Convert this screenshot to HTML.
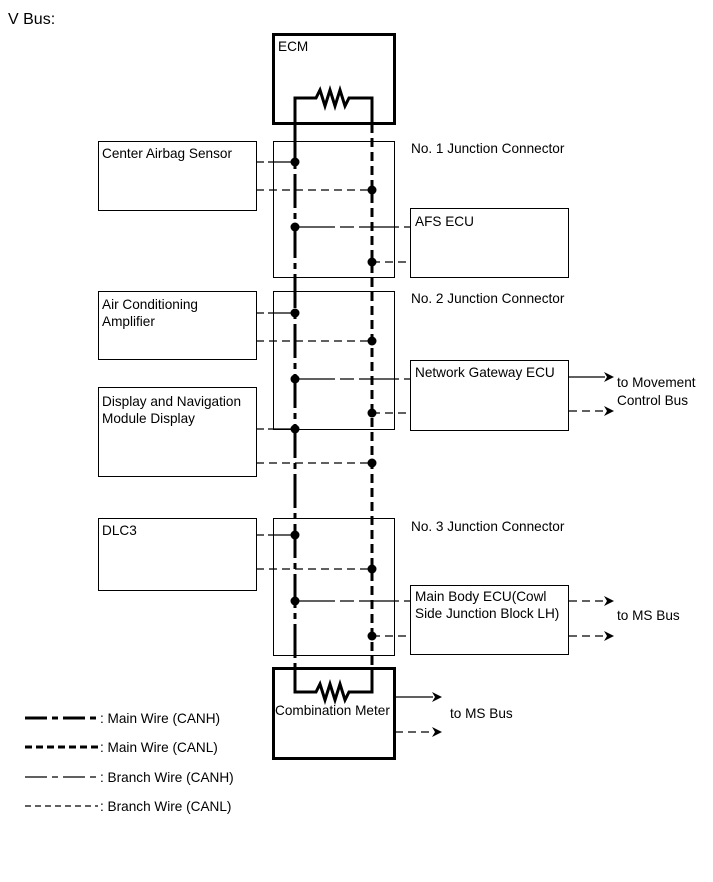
<!DOCTYPE html>
<html><head><style>body{margin:0;background:#fff}svg{display:block}text{font-family:"Liberation Sans",Arial,sans-serif;font-size:13.6px;fill:#000}</style></head>
<body>
<svg width="713" height="882" viewBox="0 0 713 882" xmlns="http://www.w3.org/2000/svg">
<text x="8" y="24" style="font-size:16px">V Bus:</text>
<g fill="none" stroke="#000">
<rect x="273.5" y="34.5" width="121" height="89" stroke-width="3"/>
<rect x="273.5" y="668.5" width="121" height="90" stroke-width="3"/>
<rect x="273.5" y="141.5" width="121" height="136" stroke-width="1"/>
<rect x="273.5" y="291.5" width="121" height="138" stroke-width="1"/>
<rect x="273.5" y="518.5" width="121" height="137" stroke-width="1"/>
<rect x="98.5" y="141.5" width="158" height="69" stroke-width="1"/>
<rect x="98.5" y="291.5" width="158" height="68" stroke-width="1"/>
<rect x="98.5" y="387.5" width="158" height="89" stroke-width="1"/>
<rect x="98.5" y="518.5" width="158" height="72" stroke-width="1"/>
<rect x="410.5" y="208.5" width="158" height="69" stroke-width="1"/>
<rect x="410.5" y="360.5" width="158" height="70" stroke-width="1"/>
<rect x="410.5" y="585.5" width="158" height="69" stroke-width="1"/>
<path d="M295 124 V98 H316 l4 -8 l5 16 l5 -16 l5 16 l5 -16 l5 16 l4 -8 H372 V124" stroke-width="3"/>
<path d="M295 668 V692 H316 l4 -8 l5 16 l5 -16 l5 16 l5 -16 l5 16 l4 -8 H372 V668" stroke-width="3"/>
<path d="M295 124 V668" stroke-width="3" stroke-dasharray="34 5 6 5"/>
<path d="M372 124 V668" stroke-width="3" stroke-dasharray="9 5"/>
<g stroke-width="1.2">
<path d="M256 162 H295 M256 313 H295 M256 429 H295 M256 535 H295" stroke-dasharray="8 4 30 0"/>
<path d="M295 227 H410 M295 379 H410 M295 601 H410" stroke-dasharray="40 5 14 5"/>
<path d="M569 377 H605 M395 697 H433" />
</g>
<g stroke-width="1.2" stroke-dasharray="8 5">
<path d="M256 190 H372 M256 341 H372 M256 463 H372 M256 569 H372"/>
<path d="M372 262 H410 M372 413 H410 M372 636 H410"/>
<path d="M569 411 H605 M569 601 H605 M569 636 H605 M395 732 H433"/>
</g>
<path d="M25 718 H98" stroke-width="3" stroke-dasharray="22 5 6 5"/>
<path d="M25 747 H98" stroke-width="3" stroke-dasharray="7 4"/>
<path d="M25 777 H98" stroke-width="1.2" stroke-dasharray="22 5 6 5"/>
<path d="M25 806 H98" stroke-width="1.2" stroke-dasharray="6 4"/>
</g>
<g fill="#000">
<circle cx="295" cy="162" r="4.5"/><circle cx="295" cy="227" r="4.5"/><circle cx="295" cy="313" r="4.5"/><circle cx="295" cy="379" r="4.5"/><circle cx="295" cy="429" r="4.5"/><circle cx="295" cy="535" r="4.5"/><circle cx="295" cy="601" r="4.5"/>
<circle cx="372" cy="190" r="4.5"/><circle cx="372" cy="262" r="4.5"/><circle cx="372" cy="341" r="4.5"/><circle cx="372" cy="413" r="4.5"/><circle cx="372" cy="463" r="4.5"/><circle cx="372" cy="569" r="4.5"/><circle cx="372" cy="636" r="4.5"/>
<path d="M604 372 L614 377 L604 382 L607 377Z"/><path d="M604 406 L614 411 L604 416 L607 411Z"/>
<path d="M604 596 L614 601 L604 606 L607 601Z"/><path d="M604 631 L614 636 L604 641 L607 636Z"/>
<path d="M432 692 L442 697 L432 702 L435 697Z"/><path d="M432 727 L442 732 L432 737 L435 732Z"/>
</g>
<text x="278" y="51">ECM</text>
<text x="411" y="153">No. 1 Junction Connector</text>
<text x="411" y="303">No. 2 Junction Connector</text>
<text x="411" y="531">No. 3 Junction Connector</text>
<text x="102" y="158">Center Airbag Sensor</text>
<text x="102" y="309">Air Conditioning</text><text x="102" y="326">Amplifier</text>
<text x="102" y="406">Display and Navigation</text><text x="102" y="423">Module Display</text>
<text x="102" y="535">DLC3</text>
<text x="415" y="226">AFS ECU</text>
<text x="415" y="377">Network Gateway ECU</text>
<text x="415" y="601">Main Body ECU(Cowl</text><text x="415" y="618">Side Junction Block LH)</text>
<text x="617" y="387">to Movement</text><text x="617" y="405">Control Bus</text>
<text x="617" y="620">to MS Bus</text>
<text x="275" y="715">Combination Meter</text>
<text x="450" y="718">to MS Bus</text>
<text x="100" y="723">: Main Wire (CANH)</text>
<text x="100" y="752">: Main Wire (CANL)</text>
<text x="100" y="782">: Branch Wire (CANH)</text>
<text x="100" y="811">: Branch Wire (CANL)</text>
</svg>
</body></html>
